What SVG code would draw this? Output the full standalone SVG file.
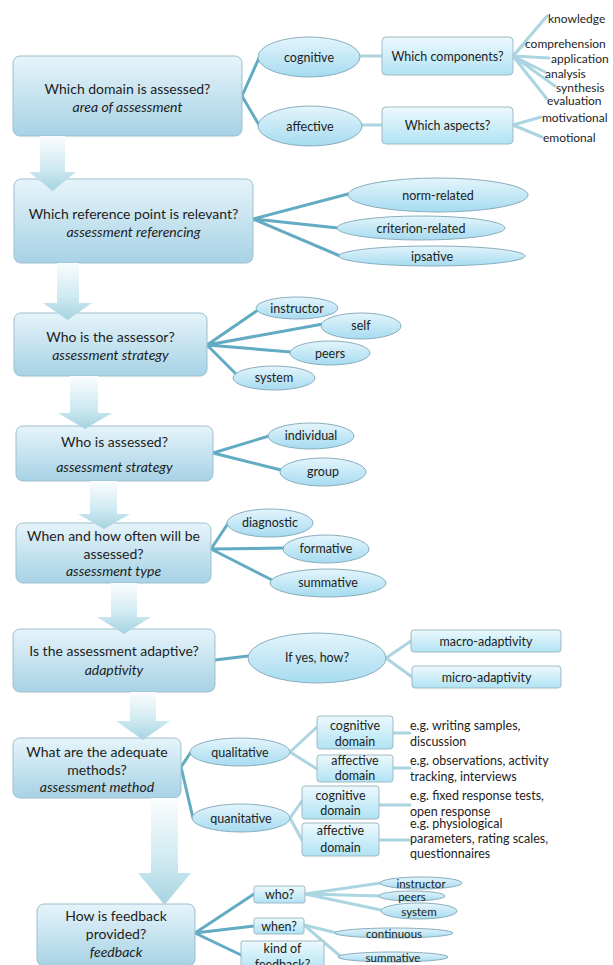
<svg xmlns="http://www.w3.org/2000/svg" width="613" height="965" viewBox="0 0 613 965">
<defs>
<linearGradient id="gBox" x1="0" y1="0" x2="0" y2="1"><stop offset="0" stop-color="#e6f4fa"/><stop offset="1" stop-color="#a7d2e5"/></linearGradient>
<linearGradient id="gEll" x1="0" y1="0" x2="0" y2="1"><stop offset="0" stop-color="#e4f5fc"/><stop offset="1" stop-color="#a6dbf0"/></linearGradient>
<linearGradient id="gSmall" x1="0" y1="0" x2="0" y2="1"><stop offset="0" stop-color="#edf9fd"/><stop offset="1" stop-color="#b0e3f4"/></linearGradient>
<linearGradient id="gArrow" x1="0" y1="0" x2="0" y2="1"><stop offset="0" stop-color="#fbfdfe"/><stop offset="0.55" stop-color="#d2ebf2"/><stop offset="1" stop-color="#a6d3e1"/></linearGradient>
<style>
.box{fill:url(#gBox);stroke:#9dbfce;stroke-width:1}
.ell{fill:url(#gEll);stroke:#8aaebd;stroke-width:1}
.sm{fill:url(#gSmall);stroke:#9fb9c4;stroke-width:1}
.arr{fill:url(#gArrow);stroke:none}
text{font-family:Lato,"Liberation Sans",sans-serif;fill:#1d1d1d;dominant-baseline:central}
.t{font-size:14px;text-anchor:middle}
.ti{font-size:14px;text-anchor:middle;font-style:italic}
.e{font-size:12.5px;text-anchor:middle}
.l{font-size:12px}
.f{font-size:12.5px}
.tiny{font-size:11.5px;text-anchor:middle}
.c{stroke:#62abc3;stroke-width:3;fill:none;stroke-linecap:round}
.cl{stroke:#acd5e2;stroke-width:3;fill:none;stroke-linecap:round}
</style>
</defs>
<rect width="613" height="965" fill="#ffffff"/>
<g id="connectors">
<path class="c" d="M242 96L259 58M242 96L259 125"/>
<path class="cl" d="M360 56H382M362 125H382"/>
<path class="cl" d="M513 56L547 16M513 56L526 42M513 56L549 58M513 56L545 72M513 56L555 86M513 56L547 99M513 125L541 117M513 125L542 137"/>
<path class="c" d="M253 219L348 194M253 219L338 228M253 219L340 256"/>
<path class="c" d="M207 345L258 310M207 345L323 324M207 345L291 352M207 345L237 375"/>
<path class="c" d="M213 453L269 436M213 453L281 470"/>
<path class="c" d="M211 549L229 522M211 549L284 548M211 549L272 580"/>
<path class="c" d="M215 660L248 656"/>
<path class="cl" d="M386 658L411 641M386 658L412 677"/>
<path class="c" d="M181 767L191 752M181 767L193 818"/>
<path class="cl" d="M290 752L317 727M290 752L317 769M290 818L302 801M290 818L302 840"/>
<path class="cl" d="M393 733H410M393 768H410M379 805H410M379 840H410"/>
<path class="c" d="M195 933L254 894M195 933L254 926M195 933L241 955"/>
<path class="cl" d="M305 894L381 883M305 894L381 896M305 894L381 910M304 925L337 933M304 925L340 956"/>
</g>
<g id="n-domain"><rect class="box" x="13" y="56" width="229" height="80" rx="7"/><text class="t" x="127.5" y="88">Which domain is assessed?</text><text class="ti" x="127.5" y="106">area of assessment</text></g>
<g id="n-cognitive"><ellipse class="ell" cx="309" cy="57" rx="51" ry="20"/><text class="e" x="309" y="57">cognitive</text></g>
<g id="n-affective"><ellipse class="ell" cx="310" cy="126" rx="52" ry="20"/><text class="e" x="310" y="126">affective</text></g>
<g id="n-components"><rect class="sm" x="382" y="37" width="131" height="38" rx="4"/><text class="e" x="447.5" y="56">Which components?</text></g>
<g id="n-aspects"><rect class="sm" x="382" y="107" width="131" height="37" rx="4"/><text class="e" x="447.5" y="125.5">Which aspects?</text></g>
<g id="n-knowledge"><text class="l" x="548" y="18">knowledge</text></g>
<g id="n-comprehension"><text class="l" x="525" y="43">comprehension</text></g>
<g id="n-application"><text class="l" x="551" y="58">application</text></g>
<g id="n-analysis"><text class="l" x="545" y="73">analysis</text></g>
<g id="n-synthesis"><text class="l" x="556" y="87">synthesis</text></g>
<g id="n-evaluation"><text class="l" x="547" y="100">evaluation</text></g>
<g id="n-motivational"><text class="l" x="542" y="117">motivational</text></g>
<g id="n-emotional"><text class="l" x="543" y="137">emotional</text></g>
<g id="n-reference"><rect class="box" x="14" y="179" width="239" height="84" rx="7"/><text class="t" x="133.5" y="213">Which reference point is relevant?</text><text class="ti" x="133.5" y="231">assessment referencing</text></g>
<g id="n-norm"><ellipse class="ell" cx="438" cy="195" rx="90" ry="17"/><text class="e" x="438" y="195">norm-related</text></g>
<g id="n-criterion"><ellipse class="ell" cx="421" cy="228" rx="84" ry="12"/><text class="e" x="421" y="228">criterion-related</text></g>
<g id="n-ipsative"><ellipse class="ell" cx="432" cy="256" rx="93" ry="10"/><text class="e" x="432" y="256">ipsative</text></g>
<g id="n-assessor"><rect class="box" x="14" y="313" width="193" height="63" rx="7"/><text class="t" x="110.5" y="336">Who is the assessor?</text><text class="ti" x="110.5" y="354">assessment strategy</text></g>
<g id="n-instructor"><ellipse class="ell" cx="297" cy="308" rx="41" ry="11"/><text class="e" x="297" y="308">instructor</text></g>
<g id="n-self"><ellipse class="ell" cx="361" cy="326" rx="40" ry="13"/><text class="e" x="361" y="325">self</text></g>
<g id="n-peers"><ellipse class="ell" cx="330" cy="353" rx="40" ry="12"/><text class="e" x="330" y="353">peers</text></g>
<g id="n-system"><ellipse class="ell" cx="274" cy="378" rx="41" ry="12"/><text class="e" x="274" y="377">system</text></g>
<g id="n-assessed"><rect class="box" x="16" y="426" width="197" height="55" rx="7"/><text class="t" x="114.5" y="441">Who is assessed?</text><text class="ti" x="114.5" y="466">assessment strategy</text></g>
<g id="n-individual"><ellipse class="ell" cx="311" cy="436" rx="43" ry="13"/><text class="e" x="311" y="435">individual</text></g>
<g id="n-group"><ellipse class="ell" cx="323" cy="472" rx="43" ry="14"/><text class="e" x="323" y="471">group</text></g>
<g id="n-when"><rect class="box" x="16" y="523" width="195" height="60" rx="7"/><text class="t" x="113.5" y="535">When and how often will be</text><text class="t" x="113.5" y="553">assessed?</text><text class="ti" x="113.5" y="570">assessment type</text></g>
<g id="n-diagnostic"><ellipse class="ell" cx="270" cy="523" rx="43" ry="14"/><text class="e" x="270" y="522">diagnostic</text></g>
<g id="n-formative"><ellipse class="ell" cx="326" cy="549" rx="43" ry="14"/><text class="e" x="326" y="548">formative</text></g>
<g id="n-summative"><ellipse class="ell" cx="328" cy="583" rx="58" ry="14"/><text class="e" x="328" y="582">summative</text></g>
<g id="n-adaptive"><rect class="box" x="13" y="629" width="202" height="63" rx="7"/><text class="t" x="114" y="650">Is the assessment adaptive?</text><text class="ti" x="114" y="669">adaptivity</text></g>
<g id="n-ifyes"><ellipse class="ell" cx="317" cy="658" rx="69" ry="25"/><text class="e" x="317" y="657">If yes, how?</text></g>
<g id="n-macro"><rect class="sm" x="411" y="630" width="150" height="22" rx="3"/><text class="e" x="486" y="641">macro-adaptivity</text></g>
<g id="n-micro"><rect class="sm" x="412" y="666" width="149" height="22" rx="3"/><text class="e" x="486.5" y="677">micro-adaptivity</text></g>
<g id="n-methods"><rect class="box" x="13" y="738" width="168" height="60" rx="7"/><text class="t" x="97" y="751">What are the adequate</text><text class="t" x="97" y="769">methods?</text><text class="ti" x="97" y="786">assessment method</text></g>
<g id="n-qualitative"><ellipse class="ell" cx="240" cy="752" rx="50" ry="14"/><text class="e" x="240" y="752">qualitative</text></g>
<g id="n-quanitative"><ellipse class="ell" cx="241" cy="818" rx="49" ry="14"/><text class="e" x="241" y="818">quanitative</text></g>
<g id="n-qual-cog"><rect class="sm" x="317" y="716" width="76" height="33" rx="3"/><text class="e" x="355" y="725">cognitive</text><text class="e" x="355" y="741">domain</text></g>
<g id="n-qual-aff"><rect class="sm" x="317" y="755" width="76" height="27" rx="3"/><text class="e" x="355" y="760">affective</text><text class="e" x="355" y="775">domain</text></g>
<g id="n-quan-cog"><rect class="sm" x="302" y="786" width="77" height="33" rx="3"/><text class="e" x="340.5" y="795">cognitive</text><text class="e" x="340.5" y="810">domain</text></g>
<g id="n-quan-aff"><rect class="sm" x="302" y="823" width="77" height="33" rx="3"/><text class="e" x="340.5" y="830">affective</text><text class="e" x="340.5" y="847">domain</text></g>
<g id="n-ex1"><text class="f" x="410" y="725">e.g. writing samples,</text><text class="f" x="410" y="741">discussion</text></g>
<g id="n-ex2"><text class="f" x="410" y="760">e.g. observations, activity</text><text class="f" x="410" y="776">tracking, interviews</text></g>
<g id="n-ex3"><text class="f" x="410" y="795">e.g. fixed response tests,</text><text class="f" x="410" y="811">open response</text></g>
<g id="n-ex4"><text class="f" x="410" y="823">e.g. physiological</text><text class="f" x="410" y="838">parameters, rating scales,</text><text class="f" x="410" y="853">questionnaires</text></g>
<g id="n-feedback"><rect class="box" x="37" y="904" width="158" height="62" rx="7"/><text class="t" x="116" y="915">How is feedback</text><text class="t" x="116" y="933">provided?</text><text class="ti" x="116" y="951">feedback</text></g>
<g id="n-who"><rect class="sm" x="254" y="886" width="51" height="17" rx="2"/><text class="e" x="279.5" y="894.5">who?</text></g>
<g id="n-whenfb"><rect class="sm" x="254" y="918" width="50" height="16" rx="2"/><text class="e" x="279" y="926">when?</text></g>
<g id="n-kind"><rect class="sm" x="241" y="941" width="83" height="30" rx="2"/><text class="e" x="282.5" y="948">kind of</text><text class="e" x="282.5" y="964">feedback?</text></g>
<g id="n-fb-instructor"><ellipse class="ell" cx="421" cy="883" rx="41" ry="6"/><text class="tiny" x="421" y="883">instructor</text></g>
<g id="n-fb-peers"><ellipse class="ell" cx="412" cy="896" rx="33" ry="5"/><text class="tiny" x="412" y="896">peers</text></g>
<g id="n-fb-system"><ellipse class="ell" cx="419" cy="911" rx="38" ry="8"/><text class="tiny" x="419" y="911">system</text></g>
<g id="n-fb-continuous"><ellipse class="ell" cx="394" cy="933" rx="59" ry="5"/><text class="tiny" x="394" y="933">continuous</text></g>
<g id="n-fb-summative"><ellipse class="ell" cx="393" cy="957" rx="55" ry="5"/><text class="tiny" x="393" y="957">summative</text></g>
<g id="flow-arrows">
<path class="arr" d="M40 136H65V172H76L52.5 191L29 172H40Z"/>
<path class="arr" d="M57 263H79V303H92L67.5 320L43 303H57Z"/>
<path class="arr" d="M70 376H98V413H112L85 429L58 413H70Z"/>
<path class="arr" d="M90 481H117V514H130L104 529L78 514H90Z"/>
<path class="arr" d="M111 583H137V617H151L124 634L97 617H111Z"/>
<path class="arr" d="M130 692H156V721H170L143 740L116 721H130Z"/>
<path class="arr" d="M151 798H178V873H191L164.5 905L138 873H151Z"/>
</g>
</svg>
